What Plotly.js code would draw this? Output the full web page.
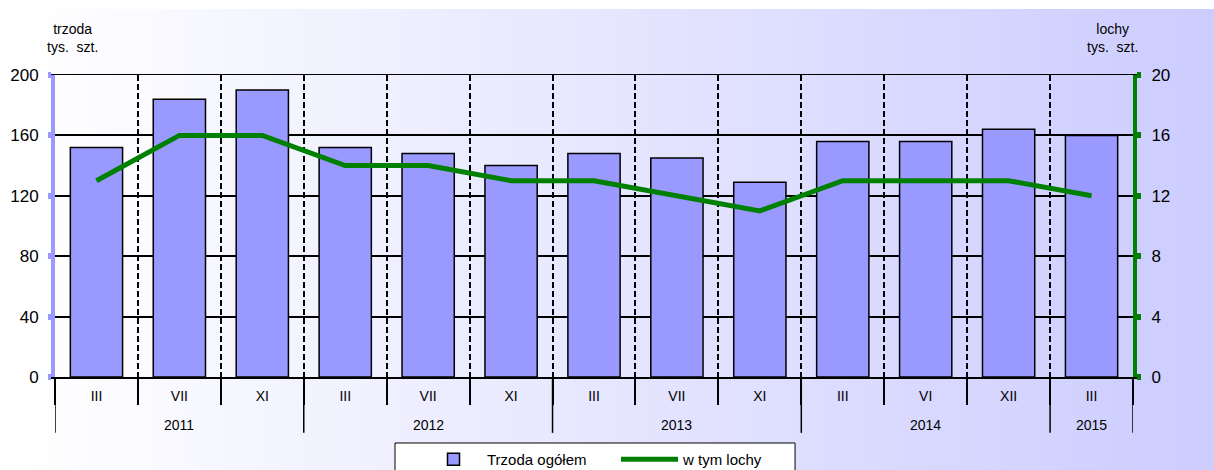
<!DOCTYPE html>
<html>
<head>
<meta charset="utf-8">
<script src="https://cdn.plot.ly/plotly-3.0.1.min.js"></script>
<style>
html,body{margin:0;padding:0;background:#ffffff;}
#bg{position:absolute;left:27px;top:9px;width:1187px;height:461px;background:linear-gradient(to right,#ffffff 0%,#ccccff 100%);}
#chart{position:absolute;left:0;top:0;width:1214px;height:470px;}
</style>
</head>
<body>
<div id="bg"></div>
<div id="chart"></div>
<script>
const months = ['III','VII','XI','III','VII','XI','III','VII','XI','III','VI','XII','III'];
const years = ['2011','2011','2011','2012','2012','2012','2013','2013','2013','2014','2014','2014','2015'];
const trzoda = [152,184,190,152,148,140,148,145,129,156,156,164,160];
const lochy = [13,16,16,14,14,13,13,12,11,13,13,13,12];

const font = 'Liberation Sans, Arial, sans-serif';
const idx = months.map((m, i) => i);

// category boundaries (between months) and year groups, derived from the arrays
const boundaries = [];
for (let i = 0; i <= months.length; i++) boundaries.push(i - 0.5);
const groups = [];
years.forEach((y, i) => {
  if (!groups.length || groups[groups.length - 1].year !== y) groups.push({year: y, start: i, end: i});
  else groups[groups.length - 1].end = i;
});
const yearEdges = [groups[0].start - 0.5].concat(groups.map(g => g.end + 0.5));

const traces = [
  {type:'bar', x:idx, y:trzoda, name:'Trzoda ogółem', width:0.63,
   marker:{color:'#9999ff', line:{color:'#000000', width:1.5}}, yaxis:'y'},
  {type:'scatter', mode:'lines', x:idx, y:lochy, name:'w tym lochy', yaxis:'y2',
   line:{color:'#008000', width:5}}
];

const shapes = yearEdges.map(e => ({type:'line', xref:'x', yref:'paper', x0:e, x1:e, y0:0, y1:-0.185,
  line:{color:'#000', width:1.5}}));
// legend frame
shapes.push({type:'rect', xref:'paper', yref:'paper', x0:0.3154, x1:0.6865, y0:-0.2185, y1:-0.40,
  fillcolor:'#ffffff', line:{color:'#000', width:1}, layer:'above'});

const annotations = groups.map(g => ({xref:'x', yref:'paper', x:(g.start + g.end) / 2, y:-0.159,
  text:g.year, showarrow:false, font:{size:14, family:font}, yanchor:'middle'}));
annotations.push(
  {xref:'paper', yref:'paper', x:0.0165, y:1.122, xanchor:'center', text:'trzoda<br>tys.  szt.', showarrow:false, font:{size:14, family:font}, align:'center', yanchor:'middle'},
  {xref:'paper', yref:'paper', x:0.981, y:1.122, xanchor:'center', text:'lochy<br>tys.  szt.', showarrow:false, font:{size:14, family:font}, align:'center', yanchor:'middle'}
);

const layout = {
  width:1214, height:470,
  margin:{l:55, r:81, t:75, b:93, pad:0},
  paper_bgcolor:'rgba(0,0,0,0)', plot_bgcolor:'rgba(0,0,0,0)',
  font:{family:font, color:'#000', size:13},
  showlegend:true,
  legend:{orientation:'h', x:0.3386, xanchor:'left', yref:'container', y:0.0574, yanchor:'top',
          bgcolor:'rgba(0,0,0,0)', borderwidth:0, font:{size:15, family:font},
          itemwidth:57, entrywidth:124, entrywidthmode:'pixels', traceorder:'normal'},
  xaxis:{range:[-0.5, months.length - 0.5], tickmode:'array', tickvals:idx, ticktext:months, ticks:'',
         showgrid:false, zeroline:false, automargin:false,
         showline:true, mirror:true, linecolor:'#000', linewidth:1.5, ticklabelstandoff:6,
         tickfont:{size:14, family:font},
         minor:{tickmode:'array', tickvals:boundaries, ticks:'outside', ticklen:26, tickcolor:'#000', tickwidth:2,
                showgrid:true, gridcolor:'#000', griddash:'6px,3px', gridwidth:2}},
  yaxis:{range:[0,200], dtick:40, tick0:0, showgrid:true, gridcolor:'#000', gridwidth:2, zeroline:false, automargin:false,
         showline:true, linecolor:'#9999ff', linewidth:4, ticks:'outside', ticklen:3, tickwidth:6, tickcolor:'#9999ff',
         ticklabelstandoff:6, tickfont:{size:17, family:font}},
  yaxis2:{range:[0,20], dtick:4, tick0:0, overlaying:'y', side:'right', showgrid:false, zeroline:false, automargin:false,
         showline:true, linecolor:'#008000', linewidth:4, ticks:'outside', ticklen:4, tickwidth:6, tickcolor:'#008000',
         ticklabelstandoff:7, tickfont:{size:17, family:font}},
  shapes:shapes,
  annotations:annotations
};

Plotly.newPlot('chart', traces, layout, {displayModeBar:false, staticPlot:true});
</script>
</body>
</html>
